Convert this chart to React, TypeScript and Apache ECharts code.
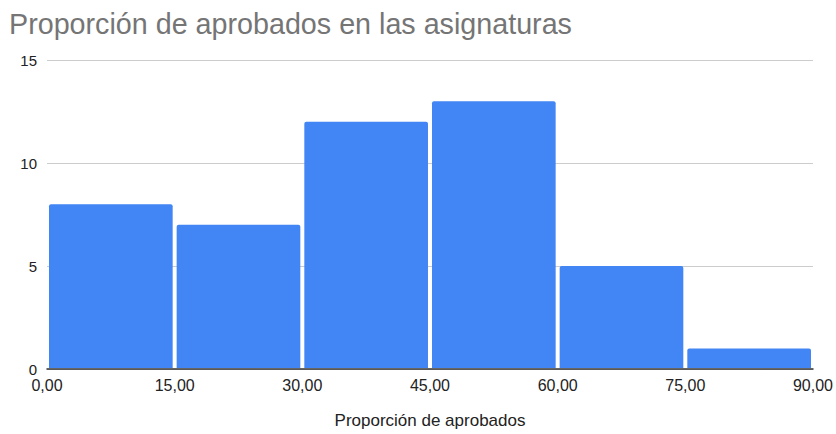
import React, { useEffect, useRef } from "react";
import * as echarts from "echarts";

const binStarts = [0, 15, 30, 45, 60, 75];
const binWidth = 15;
const counts = [8, 7, 12, 13, 5, 1];
const titleText = "Proporción de aprobados en las asignaturas";
const xAxisName = "Proporción de aprobados";

export default function App() {
  const ref = useRef<HTMLDivElement>(null);
  useEffect(() => {
    if (!ref.current) return;
    const chart = echarts.init(ref.current, undefined, { renderer: "svg" });
    const data = binStarts.map((s, i) => [s, s + binWidth, counts[i]]);
    chart.setOption({
      animation: false,
      textStyle: { fontFamily: "Liberation Sans, Arial, sans-serif" },
      title: {
        text: titleText,
        left: 4,
        top: 4,
        textStyle: { color: "#757575", fontSize: 28.7, fontWeight: "normal", fontFamily: "Liberation Sans, Arial, sans-serif" },
      },
      grid: { left: 47, right: 23, top: 60, bottom: 59 },
      xAxis: {
        type: "value",
        min: 0,
        max: 90,
        interval: 15,
        name: xAxisName,
        nameLocation: "middle",
        nameGap: 43,
        nameTextStyle: { color: "#222", fontSize: 17 },
        axisLine: { show: true, lineStyle: { color: "#333", width: 1.5 } },
        axisTick: { show: false },
        splitLine: { show: false },
        axisLabel: {
          color: "#222",
          fontSize: 16,
          margin: 8,
          formatter: (v: number) => v.toFixed(2).replace(".", ","),
        },
      },
      yAxis: {
        type: "value",
        min: 0,
        max: 15,
        interval: 5,
        axisLine: { show: false },
        axisTick: { show: false },
        splitLine: { lineStyle: { color: "#cccccc" } },
        axisLabel: { color: "#222", fontSize: 15, margin: 10 },
      },
      series: [
        {
          type: "custom",
          data,
          encode: { x: [0, 1], y: 2 },
          renderItem: (params: any, api: any) => {
            const p0 = api.coord([api.value(0), api.value(2)]);
            const p1 = api.coord([api.value(1), 0]);
            const gap = 2;
            return {
              type: "rect",
              shape: {
                x: p0[0] + gap,
                y: p0[1],
                width: p1[0] - p0[0] - gap * 2,
                height: p1[1] - p0[1] - 1,
                r: [2, 2, 0, 0],
              },
              style: { fill: "#4285F4" },
            };
          },
        },
      ],
    });
    return () => chart.dispose();
  }, []);
  return (
    <div
      ref={ref}
      style={{ position: "absolute", left: 0, top: 0, width: 836, height: 434 }}
    />
  );
}
